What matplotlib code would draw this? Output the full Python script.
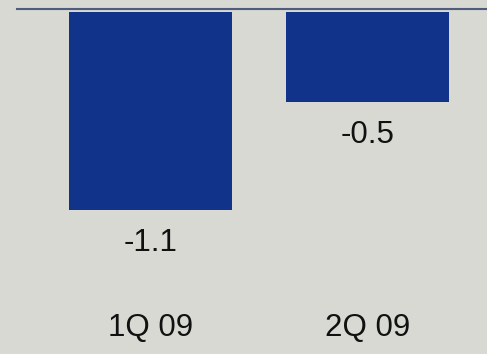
import matplotlib
matplotlib.use("Agg")
import matplotlib.pyplot as plt

categories = ["1Q 09", "2Q 09"]
values = [-1.1, -0.5]
value_labels = ["-1.1", "-0.5"]

bg = "#d9d9d4"
bar_color = "#12338a"
line_color = "#4d5d7a"

plt.rcParams["font.family"] = ["Liberation Sans", "DejaVu Sans"]

W, H = 487, 354
fig = plt.figure(figsize=(W / 100, H / 100), dpi=100, facecolor=bg)
ax = fig.add_axes([17 / W, 0, 1 - 17 / W, 1 - 9 / H], facecolor=bg)

x = list(range(len(categories)))
ax.bar(x, values, width=0.751, color=bar_color, edgecolor="none")

ax.set_xlim(-0.615, 1.551)
ax.set_ylim(-1.9, 0.0167)

for xi, v, lab in zip(x, values, value_labels):
    ax.text(xi, v - 0.185, lab, ha="center", va="center", fontsize=22.5, color="#111111")

for xi, c in zip(x, categories):
    ax.text(xi, -1.755, c, ha="center", va="center", fontsize=22.5, color="#111111")

for s in ["left", "right", "bottom"]:
    ax.spines[s].set_visible(False)
ax.spines["top"].set_color(line_color)
ax.spines["top"].set_linewidth(1.5)
ax.set_xticks([])
ax.set_yticks([])

fig.savefig("out.png", dpi=100, facecolor=bg)
